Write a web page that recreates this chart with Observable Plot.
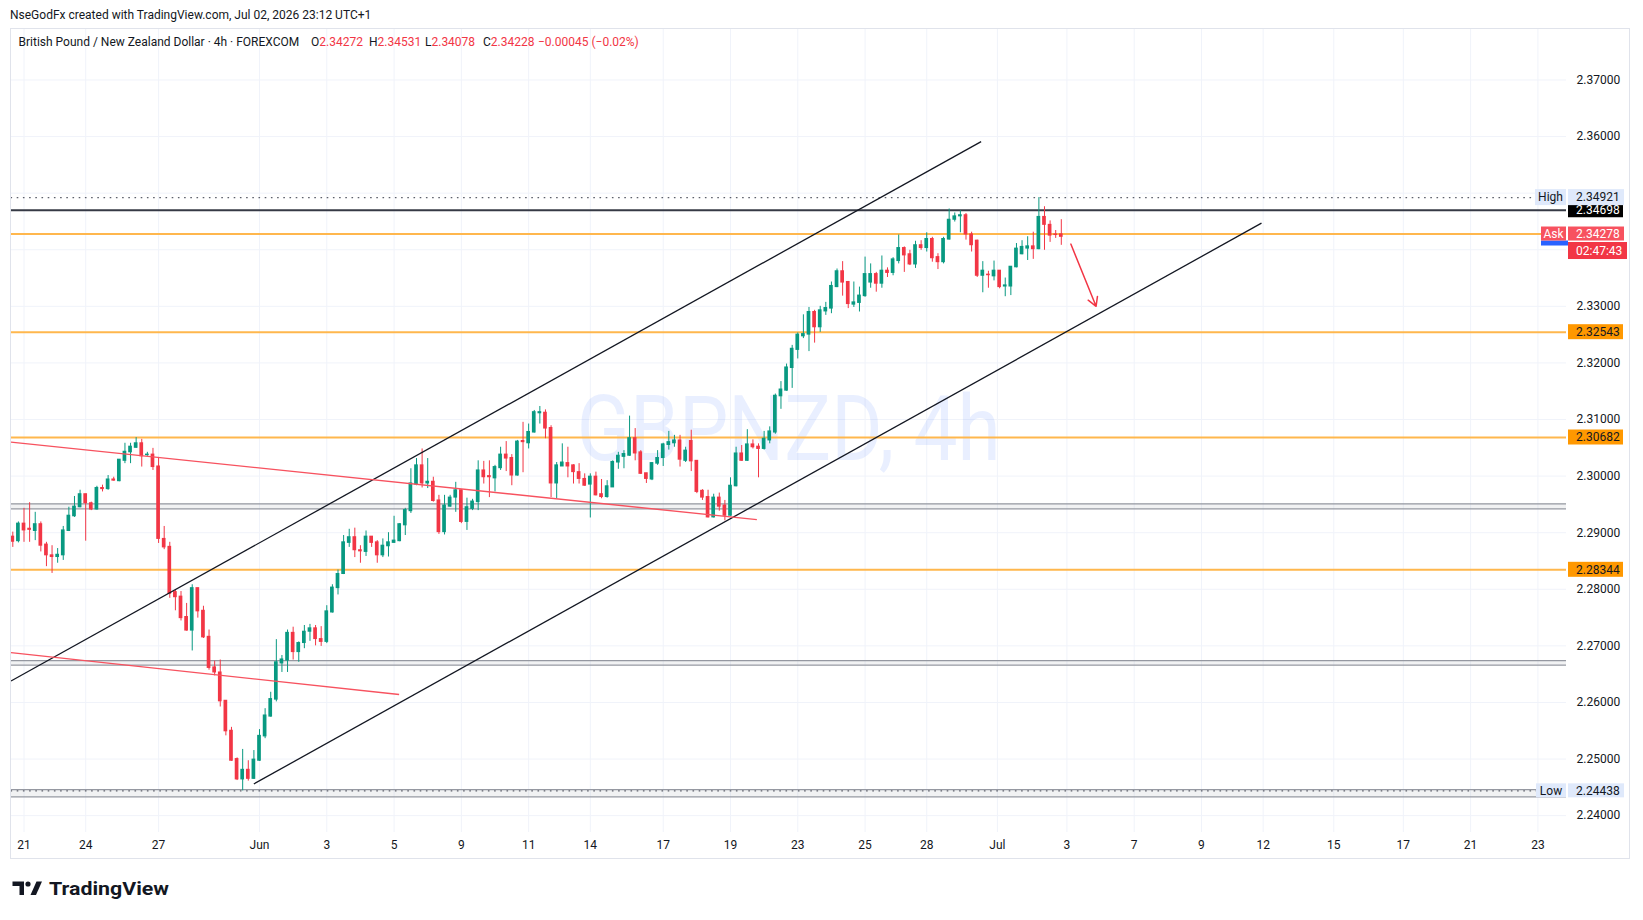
<!DOCTYPE html>
<html><head><meta charset="utf-8">
<script src="https://cdn.jsdelivr.net/npm/d3@7"></script>
<script src="https://cdn.jsdelivr.net/npm/@observablehq/plot@0.6"></script>
<style>
html,body{margin:0;padding:0;background:#fff;}
#wrap{position:relative;width:1643px;height:920px;overflow:hidden;font-family:Roboto,"Liberation Sans",sans-serif;color:#131722;}
#frame{position:absolute;left:10px;top:28px;width:1620px;height:831px;border:1px solid #e0e3eb;box-sizing:border-box;pointer-events:none;}
#chart{position:absolute;left:0;top:0;}
.hdr{position:absolute;font-size:12px;white-space:nowrap;line-height:14px;}
.r{color:#f23645;}
#logo{position:absolute;left:12px;top:878px;}
</style></head>
<body><div id="wrap">
<div id="chart"></div>
<div id="frame"></div>
<div class="hdr" style="left:10px;top:8px">NseGodFx created with TradingView.com, Jul 02, 2026 23:12 UTC+1</div>
<div class="hdr" style="left:18.5px;top:35px">British Pound / New Zealand Dollar · 4h · FOREXCOM</div>
<div class="hdr" style="left:311px;top:35px">O<span class="r">2.34272</span></div>
<div class="hdr" style="left:369px;top:35px">H<span class="r">2.34531</span></div>
<div class="hdr" style="left:425px;top:35px">L<span class="r">2.34078</span></div>
<div class="hdr" style="left:483px;top:35px">C<span class="r">2.34228</span></div>
<div class="hdr r" style="left:538px;top:35px">−0.00045 (−0.02%)</div>
<svg id="logo" width="170" height="26" viewBox="0 0 170 26">
  <path d="M0.5 3.5 H12 V17 H7.5 V8 H0.5 Z" fill="#131722"/>
  <circle cx="16" cy="6" r="2.6" fill="#131722"/>
  <path d="M18.5 17 L24.5 3.5 H30 L24 17 Z" fill="#131722"/>
  <text x="37" y="17" font-family="Roboto, 'Liberation Sans', sans-serif" font-weight="700" font-size="19" fill="#131722" textLength="120" lengthAdjust="spacingAndGlyphs">TradingView</text>
</svg>
</div>
<script>
// ---- data ----
const open = [2.2893,2.2885,2.2916,2.2907,2.2903,2.2915,2.2879,2.2860,2.2857,2.2860,2.2903,2.2929,2.2945,2.2968,2.2952,2.2941,2.2979,2.2977,2.2994,2.2991,2.3027,2.3042,2.3050,2.3058,2.3037,2.3038,2.3017,2.2889,2.2875,2.2795,2.2787,2.2751,2.2727,2.2802,2.2762,2.2716,2.2662,2.2653,2.2603,2.2550,2.2500,2.2464,2.2481,2.2465,2.2497,2.2540,2.2575,2.2605,2.2669,2.2674,2.2723,2.2689,2.2705,2.2725,2.2731,2.2712,2.2707,2.2759,2.2802,2.2827,2.2882,2.2892,2.2869,2.2866,2.2893,2.2883,2.2860,2.2876,2.2882,2.2885,2.2913,2.2938,2.2985,2.3019,2.2987,2.2990,2.2957,2.2901,2.2946,2.2962,2.2975,2.2919,2.2942,2.2954,2.3010,2.3000,2.2996,2.3014,2.3038,2.3032,2.3001,2.3062,2.3058,2.3077,2.3111,2.3112,2.3085,2.2987,2.3017,2.3023,2.3019,2.3007,2.2995,2.2985,2.2999,2.2968,2.2963,2.2980,2.3024,2.3034,2.3036,2.3067,2.3042,2.3005,2.2994,2.3022,2.3032,2.3055,2.3058,2.3063,2.3027,2.3062,2.3027,2.2974,2.2963,2.2927,2.2962,2.2948,2.2930,2.2982,2.3040,2.3027,2.3056,2.3052,2.3048,2.3063,2.3077,2.3141,2.3151,2.3191,2.3223,2.3247,2.3250,2.3290,2.3263,2.3291,2.3296,2.3334,2.3362,2.3343,2.3303,2.3306,2.3318,2.3342,2.3357,2.3340,2.3363,2.3359,2.3380,2.3403,2.3392,2.3374,2.3408,2.3403,2.3419,2.3387,2.3378,2.3418,2.3453,2.3459,2.3461,2.3427,2.3416,2.3354,2.3356,2.3353,2.3363,2.3335,2.3335,2.3369,2.3392,2.3402,2.3406,2.3401,2.3458,2.3444,2.3427,2.34272];
const high = [2.2901,2.2919,2.2943,2.2953,2.2936,2.2919,2.2883,2.2877,2.2872,2.2911,2.2945,2.2964,2.2975,2.2968,2.2954,2.2982,2.2984,2.3001,2.2998,2.3029,2.3058,2.3058,2.3068,2.3065,2.3042,2.3049,2.3033,2.2911,2.2883,2.2798,2.2796,2.2775,2.2808,2.2802,2.2770,2.2728,2.2673,2.2675,2.2603,2.2556,2.2502,2.2517,2.2497,2.2515,2.2552,2.2589,2.2618,2.2711,2.2683,2.2728,2.2733,2.2707,2.2736,2.2738,2.2736,2.2734,2.2771,2.2808,2.2834,2.2895,2.2906,2.2908,2.2877,2.2903,2.2893,2.2886,2.2889,2.2900,2.2929,2.2916,2.2943,2.3013,2.3031,2.3048,2.3031,2.2998,2.2966,2.2966,2.2966,2.2989,2.2976,2.2961,2.2959,2.3027,2.3026,2.3027,2.3019,2.3051,2.3061,2.3038,2.3063,2.3095,2.3092,2.3116,2.3123,2.3117,2.3089,2.3024,2.3057,2.3051,2.3020,2.3022,2.3004,2.3004,2.3007,2.2994,2.2992,2.3027,2.3042,2.3045,2.3106,2.3084,2.3045,2.3005,2.3024,2.3045,2.3058,2.3079,2.3072,2.3072,2.3051,2.3081,2.3027,2.2976,2.2975,2.2968,2.2970,2.2957,2.2997,2.3051,2.3054,2.3082,2.3064,2.3057,2.3079,2.3087,2.3145,2.3167,2.3198,2.3231,2.3253,2.3285,2.3298,2.3293,2.3300,2.3307,2.3343,2.3366,2.3379,2.3344,2.3343,2.3334,2.3387,2.3375,2.3360,2.3389,2.3368,2.3386,2.3426,2.3405,2.3399,2.3415,2.3416,2.3430,2.3422,2.3393,2.3422,2.3472,2.3465,2.3469,2.3464,2.3431,2.3417,2.3379,2.3362,2.3380,2.3363,2.3350,2.3370,2.3411,2.3416,2.3423,2.3431,2.34921,2.3476,2.3451,2.3434,2.34531];
const low = [2.2874,2.2882,2.2883,2.2883,2.2886,2.2866,2.2840,2.2828,2.2846,2.2851,2.2902,2.2927,2.2944,2.2885,2.2939,2.2940,2.2972,2.2975,2.2991,2.2990,2.3022,2.3022,2.3049,2.3016,2.3035,2.3010,2.2881,2.2870,2.2784,2.2762,2.2744,2.2726,2.2691,2.2749,2.2713,2.2657,2.2647,2.2592,2.2541,2.2496,2.2462,2.24438,2.2461,2.2464,2.2496,2.2536,2.2574,2.2601,2.2653,2.2653,2.2675,2.2671,2.2695,2.2708,2.2700,2.2699,2.2704,2.2758,2.2790,2.2826,2.2874,2.2856,2.2846,2.2858,2.2874,2.2846,2.2856,2.2857,2.2881,2.2884,2.2895,2.2934,2.2983,2.2979,2.2978,2.2954,2.2897,2.2896,2.2945,2.2936,2.2916,2.2904,2.2939,2.2939,2.2986,2.2962,2.2972,2.3010,2.3008,2.2983,2.3000,2.3006,2.3048,2.3076,2.3092,2.3066,2.2962,2.2960,2.3017,2.2997,2.2986,2.2986,2.2982,2.2926,2.2965,2.2960,2.2961,2.2980,2.3012,2.3013,2.3035,2.3027,2.3003,2.2987,2.2992,2.3019,2.3017,2.3046,2.3051,2.3016,2.3024,2.3008,2.2969,2.2957,2.2926,2.2926,2.2938,2.2921,2.2929,2.2981,2.3026,2.3026,2.3048,2.2997,2.3046,2.3057,2.3074,2.3118,2.3150,2.3155,2.3207,2.3243,2.3220,2.3235,2.3254,2.3284,2.3287,2.3333,2.3318,2.3296,2.3298,2.3290,2.3316,2.3332,2.3325,2.3332,2.3351,2.3354,2.3375,2.3360,2.3372,2.3367,2.3399,2.3396,2.3378,2.3365,2.3375,2.3417,2.3449,2.3430,2.3417,2.3396,2.3351,2.3324,2.3332,2.3345,2.3331,2.3317,2.3319,2.3368,2.3391,2.3381,2.3383,2.3400,2.3399,2.3413,2.3420,2.34078];
const close = [2.2884,2.2916,2.2904,2.2905,2.2915,2.2877,2.2860,2.2857,2.2861,2.2904,2.2930,2.2946,2.2968,2.2952,2.2941,2.2979,2.2977,2.2994,2.2992,2.3029,2.3043,2.3052,2.3058,2.3035,2.3038,2.3016,2.2889,2.2874,2.2792,2.2786,2.2749,2.2727,2.2802,2.2761,2.2715,2.2661,2.2653,2.2602,2.2549,2.2497,2.2464,2.2481,2.2465,2.2499,2.2541,2.2577,2.2606,2.2671,2.2676,2.2723,2.2689,2.2705,2.2725,2.2731,2.2712,2.2707,2.2761,2.2803,2.2827,2.2883,2.2892,2.2869,2.2867,2.2893,2.2882,2.2860,2.2877,2.2883,2.2886,2.2915,2.2940,2.2987,2.3019,2.2987,2.2990,2.2956,2.2901,2.2948,2.2962,2.2975,2.2919,2.2945,2.2955,2.3010,2.2998,2.2998,2.3016,2.3038,2.3031,2.3001,2.3061,2.3060,2.3078,2.3113,2.3113,2.3084,2.2987,2.3019,2.3024,2.3017,2.3007,2.2995,2.2983,2.2999,2.2966,2.2963,2.2982,2.3025,2.3036,2.3039,2.3067,2.3040,2.3004,2.2995,2.3023,2.3032,2.3056,2.3060,2.3063,2.3029,2.3045,2.3026,2.2972,2.2962,2.2927,2.2962,2.2946,2.2930,2.2983,2.3040,2.3027,2.3056,2.3051,2.3048,2.3066,2.3079,2.3142,2.3153,2.3192,2.3225,2.3250,2.3251,2.3290,2.3263,2.3293,2.3297,2.3336,2.3362,2.3342,2.3304,2.3307,2.3319,2.3357,2.3357,2.3340,2.3363,2.3359,2.3383,2.3403,2.3390,2.3374,2.3408,2.3403,2.3419,2.3385,2.3378,2.3419,2.3453,2.3459,2.3461,2.3427,2.3408,2.3354,2.3363,2.3355,2.3363,2.3334,2.3337,2.3370,2.3402,2.3405,2.3406,2.3401,2.3458,2.3444,2.3425,2.3426,2.34228];

const xTicks = [2, 13, 26, 44, 56, 68, 80, 92, 103, 116, 128, 140, 152, 163, 175.6, 188, 200, 212, 223, 235.6, 248, 260, 272];
const xTickLabels = ["21","24","27","Jun","3","5","9","11","14","17","19","23","25","28","Jul","3","7","9","12","15","17","21","23"];
const yTicks = [2.24,2.25,2.26,2.27,2.28,2.29,2.30,2.31,2.32,2.33,2.34,2.35,2.36,2.37];
// labels at 2.34 and 2.35 sit under the price tags on the axis
const yHiddenLabels = [2.34, 2.35];

const orangeLevels = [2.34278, 2.32543, 2.30682, 2.28344];
const blackLevel = 2.34698;
const highPrice = 2.34921;
const lowPrice = 2.24438;
const askPrice = 2.34278;
const countdown = "02:47:43";
const greyBands = [[2.2942, 2.2951], [2.2666, 2.2674], [2.2433, 2.2446]];

const channelLines = [
  {x1: -0.32, y1: 2.2638, x2: 172.7, y2: 2.3591},
  {x1: 42.98, y1: 2.2456, x2: 222.7, y2: 2.3447}
];
const redLines = [
  {x1: -0.32, y1: 2.3060, x2: 132.7, y2: 2.2923},
  {x1: -0.32, y1: 2.2688, x2: 68.9, y2: 2.2614}
];
const arrows = [{x1: 188.7, y1: 2.3410, x2: 193.2, y2: 2.3300}];

const title = "GBPNZD, 4h";

// ---- chart ----
const GREEN = "#089981", RED = "#f23645";
const FONT = "Roboto, 'Liberation Sans', sans-serif";
const candles = open.map((o, i) => ({i, o, h: high[i], l: low[i], c: close[i]}));
const candleColor = d => d.c >= d.o ? GREEN : RED;
const xDomain = [-0.321, 277.1];

function badgeLayer(index, scales, values, dim) {
  const g = d3.create("svg:g").attr("font-family", FONT).attr("font-size", 12);
  const xr = dim.width - dim.marginRight;
  const vx = xr + 2;
  const box = (x, yc, w, h, fill, text, color, centered) => {
    g.append("rect").attr("x", x).attr("y", yc - h / 2).attr("width", w).attr("height", h).attr("fill", fill);
    if (text) g.append("text")
      .attr("x", centered ? x + w / 2 : x + 8)
      .attr("y", yc).attr("dy", "0.36em")
      .attr("text-anchor", centered ? "middle" : "start")
      .attr("fill", color).text(text);
  };
  for (const p of orangeLevels.slice(1)) box(vx, scales.y(p), 55, 15, "#ff9800", p.toFixed(5), "#131722");
  box(vx, scales.y(blackLevel), 55, 15, "#000000", blackLevel.toFixed(5), "#ffffff");
  const yh = scales.y(highPrice);
  box(xr - 31, yh, 31, 16, "#dfe9fb", "High", "#131722", true);
  box(vx, yh, 56, 16, "#dfe9fb", highPrice.toFixed(5), "#131722");
  const ya = scales.y(askPrice);
  box(vx, ya + 17, 59, 17, "#f23645", countdown, "#ffffff");
  g.append("rect").attr("x", xr - 25).attr("y", ya + 7).attr("width", 27).attr("height", 5).attr("fill", "#2962ff");
  box(xr - 25, ya, 25, 14, "#f7525f", "Ask", "#ffffff", true);
  box(vx, ya, 56, 14, "#f7525f", askPrice.toFixed(5), "#ffffff");
  const yl = scales.y(lowPrice);
  box(xr - 30, yl, 30, 14, "#dfe9fb", "Low", "#131722", true);
  box(vx, yl, 56, 14, "#dfe9fb", lowPrice.toFixed(5), "#131722");
  return g.node();
}

const chart = Plot.plot({
  width: 1643,
  height: 920,
  marginLeft: 10.5,
  marginRight: 77,
  marginTop: 29,
  marginBottom: 88,
  x: {type: "linear", domain: xDomain, axis: null},
  y: {type: "linear", domain: [2.23702, 2.37892], axis: null},
  style: {fontFamily: FONT, fontSize: "12px", color: "#131722", background: "transparent", overflow: "visible"},
  marks: [
    Plot.ruleX(xTicks, {x: d => d, stroke: "#f0f3fa", strokeWidth: 1}),
    Plot.ruleY(yTicks, {y: d => d, stroke: "#f0f3fa", strokeWidth: 1}),
    Plot.rect(greyBands, {x1: () => xDomain[0], x2: () => xDomain[1], y1: d => d[0], y2: d => d[1], fill: "#787b86", fillOpacity: 0.1}),
    Plot.ruleY(greyBands.flat(), {y: d => d, stroke: "#9598a1", strokeWidth: 1.3}),
    Plot.text([title], {text: d => d, frameAnchor: "middle", dy: 0, fontSize: 90, fill: "#2962ff", fillOpacity: 0.1}),
    Plot.ruleY(orangeLevels, {y: d => d, stroke: "#ffb74d", strokeWidth: 2}),
    Plot.ruleY([blackLevel], {y: d => d, stroke: "#363a45", strokeWidth: 2}),
    Plot.ruleY([highPrice, lowPrice], {y: d => d, stroke: "#5d606b", strokeWidth: 1.4, strokeDasharray: "1.6,4.6"}),
    Plot.ruleX(candles, {x: "i", y1: "l", y2: "h", stroke: candleColor, strokeWidth: 1}),
    Plot.rect(candles, {x1: d => d.i - 0.33, x2: d => d.i + 0.33, y1: d => Math.min(d.o, d.c), y2: d => Math.max(d.o, d.c), fill: candleColor, insetTop: -0.5, insetBottom: -0.5}),
    Plot.link(channelLines, {x1: "x1", y1: "y1", x2: "x2", y2: "y2", stroke: "#131722", strokeWidth: 1.3}),
    Plot.link(redLines, {x1: "x1", y1: "y1", x2: "x2", y2: "y2", stroke: "#f7525f", strokeWidth: 1.4}),
    Plot.arrow(arrows, {x1: "x1", y1: "y1", x2: "x2", y2: "y2", stroke: "#f23645", strokeWidth: 1.5, headLength: 10, bend: 0}),
    Plot.text(yTicks.filter(t => !yHiddenLabels.includes(t)), {y: d => d, text: d => d.toFixed(5), frameAnchor: "right", dx: 10, textAnchor: "start", fill: "#131722", fontSize: 12}),
    Plot.text(xTicks, {x: d => d, text: (d, i) => xTickLabels[i], frameAnchor: "bottom", dy: 13, lineAnchor: "middle", fill: "#131722", fontSize: 12}),
    badgeLayer
  ]
});
document.getElementById("chart").appendChild(chart);
d3.select(chart).selectAll("text")
  .filter(function() { return this.textContent === title; })
  .attr("textLength", 424).attr("lengthAdjust", "spacingAndGlyphs");
</script>
</body></html>
